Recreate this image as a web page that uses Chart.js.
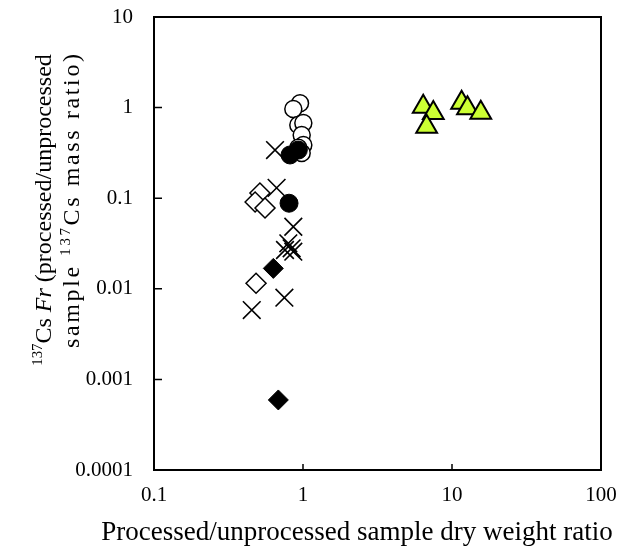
<!DOCTYPE html>
<html>
<head>
<meta charset="utf-8">
<script src="https://cdn.jsdelivr.net/npm/chart.js@4.4.1/dist/chart.umd.min.js"></script>
<style>
  html, body { margin: 0; padding: 0; background: #fff; }
</style>
</head>
<body>
<canvas id="chart" width="619" height="551"></canvas>
<script>
// values: x = dry weight ratio, y = 137Cs Fr
const openCircleX = [0.955, 0.861, 0.930, 1.005, 0.980, 1.005, 0.980, 0.930];
const openCircleY = [1.116, 0.965, 0.643, 0.676, 0.499, 0.387, 0.316, 0.360];

const filledCircleX = [0.818, 0.930, 0.806];
const filledCircleY = [0.300, 0.340, 0.088];

const openDiamondX = [0.514, 0.477, 0.556, 0.484];
const openDiamondY = [0.114, 0.0908, 0.078, 0.0115];

const filledDiamondX = [0.632, 0.683];
const filledDiamondY = [0.0168, 0.000593];

const crossX = [0.649, 0.665, 0.861, 0.797, 0.839, 0.757, 0.861, 0.750, 0.453];
const crossY = [0.340, 0.130, 0.0484, 0.0318, 0.028, 0.0268, 0.0257, 0.00798, 0.00583];

const triangleX = [6.41, 7.49, 6.76, 11.6, 12.7, 15.6];
const triangleY = [1.023, 0.872, 0.616, 1.133, 0.982, 0.878];

const xTicks = [0.1, 1, 10, 100];
const yTicks = [0.0001, 0.001, 0.01, 0.1, 1, 10];

const serif = '"Liberation Serif", "Times New Roman", serif';

function pts(xs, ys) {
    return xs.map((x, i) => ({ x: x, y: ys[i] }));
}

// draws a line of text with superscript / italic pieces, centred on cx.
// if span is given the characters are spread out to fill it (distributed alignment)
function drawRich(ctx, parts, size, cx, cy, span) {
    const fontOf = p => (p.it ? 'italic ' : '') + (p.sup ? size * 0.62 : size) + 'px ' + serif;
    let total = 0, chars = 0;
    parts.forEach(p => {
        ctx.font = fontOf(p);
        p.w = ctx.measureText(p.t).width;
        total += p.w;
        chars += p.t.length;
    });
    const gap = span ? (span - total) / (chars - 1) : 0;
    let x = cx - (total + gap * (chars - 1)) / 2;
    parts.forEach(p => {
        ctx.font = fontOf(p);
        const yy = p.sup ? cy - size * 0.3 : cy;
        if (!gap) {
            ctx.fillText(p.t, x, yy);
            x += p.w;
            return;
        }
        for (const ch of p.t) {
            ctx.fillText(ch, x, yy);
            x += ctx.measureText(ch).width + gap;
        }
    });
}

const framePlugin = {
    id: 'frame',
    beforeDatasetsDraw(chart) {
        const { ctx, chartArea: a, scales } = chart;
        ctx.save();
        ctx.strokeStyle = '#000';
        ctx.lineWidth = 2;
        ctx.strokeRect(a.left, a.top, a.right - a.left, a.bottom - a.top);
        ctx.lineWidth = 1.5;
        ctx.beginPath();
        xTicks.forEach(v => {
            const px = scales.x.getPixelForValue(v);
            ctx.moveTo(px, a.bottom);
            ctx.lineTo(px, a.bottom - 6);
        });
        yTicks.forEach(v => {
            const py = scales.y.getPixelForValue(v);
            ctx.moveTo(a.left, py);
            ctx.lineTo(a.left + 8, py);
        });
        ctx.stroke();
        ctx.restore();
    },
    afterDraw(chart) {
        const ctx = chart.ctx;
        ctx.save();
        ctx.fillStyle = '#000';
        ctx.textBaseline = 'middle';
        ctx.textAlign = 'center';
        ctx.font = '27px ' + serif;
        ctx.fillText('Processed/unprocessed sample dry weight ratio', 357, 533);

        ctx.textAlign = 'left';
        ctx.save();
        ctx.translate(45, 210);
        ctx.rotate(-Math.PI / 2);
        drawRich(ctx, [
            { t: '137', sup: true }, { t: 'Cs ' }, { t: 'Fr', it: true }, { t: ' (processed/unprocessed' }
        ], 24, 0, 0);
        ctx.restore();
        ctx.save();
        ctx.translate(73, 201);
        ctx.rotate(-Math.PI / 2);
        drawRich(ctx, [
            { t: 'sample ' }, { t: '137', sup: true }, { t: 'Cs mass ratio)' }
        ], 24, 0, 0, 294);
        ctx.restore();
        ctx.restore();
    }
};

const tickFont = { family: serif, size: 21 };

new Chart(document.getElementById('chart'), {
    type: 'scatter',
    data: {
        datasets: [
            {
                label: 'filled circle',
                data: pts(filledCircleX, filledCircleY),
                pointStyle: 'circle', pointRadius: 9,
                backgroundColor: '#000', borderColor: '#000', borderWidth: 1
            },
            {
                label: 'filled diamond',
                data: pts(filledDiamondX, filledDiamondY),
                pointStyle: 'rectRot', pointRadius: 10,
                backgroundColor: '#000', borderColor: '#000', borderWidth: 1
            },
            {
                label: 'cross',
                data: pts(crossX, crossY),
                pointStyle: 'crossRot', pointRadius: 12.5,
                backgroundColor: '#000', borderColor: '#000', borderWidth: 1.6
            },
            {
                label: 'open circle',
                data: pts(openCircleX, openCircleY),
                pointStyle: 'circle', pointRadius: 8.5,
                backgroundColor: '#fff', borderColor: '#000', borderWidth: 1.5
            },
            {
                label: 'open diamond',
                data: pts(openDiamondX, openDiamondY),
                pointStyle: 'rectRot', pointRadius: 10,
                backgroundColor: '#fff', borderColor: '#000', borderWidth: 1.5
            },
            {
                label: 'triangle',
                data: pts(triangleX, triangleY),
                pointStyle: 'triangle', pointRadius: 12,
                backgroundColor: 'rgb(204,255,51)', borderColor: '#000', borderWidth: 2
            }
        ]
    },
    options: {
        responsive: false,
        animation: false,
        layout: { padding: { top: 17, right: 18, left: 0, bottom: 0 } },
        plugins: {
            legend: { display: false },
            tooltip: { enabled: false }
        },
        scales: {
            x: {
                type: 'logarithmic',
                min: 0.1, max: 100,
                afterBuildTicks: s => { s.ticks = xTicks.map(v => ({ value: v })); },
                afterFit: s => {
                    s.height = 81;
                    s.paddingLeft = 0;
                    s.paddingRight = 0;
                },
                grid: { display: false, drawTicks: false },
                border: { display: false },
                ticks: {
                    font: tickFont, color: '#000', padding: 13,
                    maxRotation: 0, autoSkip: false,
                    callback: v => String(v)
                }
            },
            y: {
                type: 'logarithmic',
                min: 0.0001, max: 10,
                afterBuildTicks: s => { s.ticks = yTicks.map(v => ({ value: v })); },
                afterFit: s => {
                    s.width = 154;
                    s.paddingTop = 0;
                    s.paddingBottom = 0;
                },
                grid: { display: false, drawTicks: false },
                border: { display: false },
                ticks: {
                    font: tickFont, color: '#000', padding: 21,
                    autoSkip: false,
                    callback: v => String(v)
                }
            }
        }
    },
    plugins: [framePlugin]
});
</script>
</body>
</html>
